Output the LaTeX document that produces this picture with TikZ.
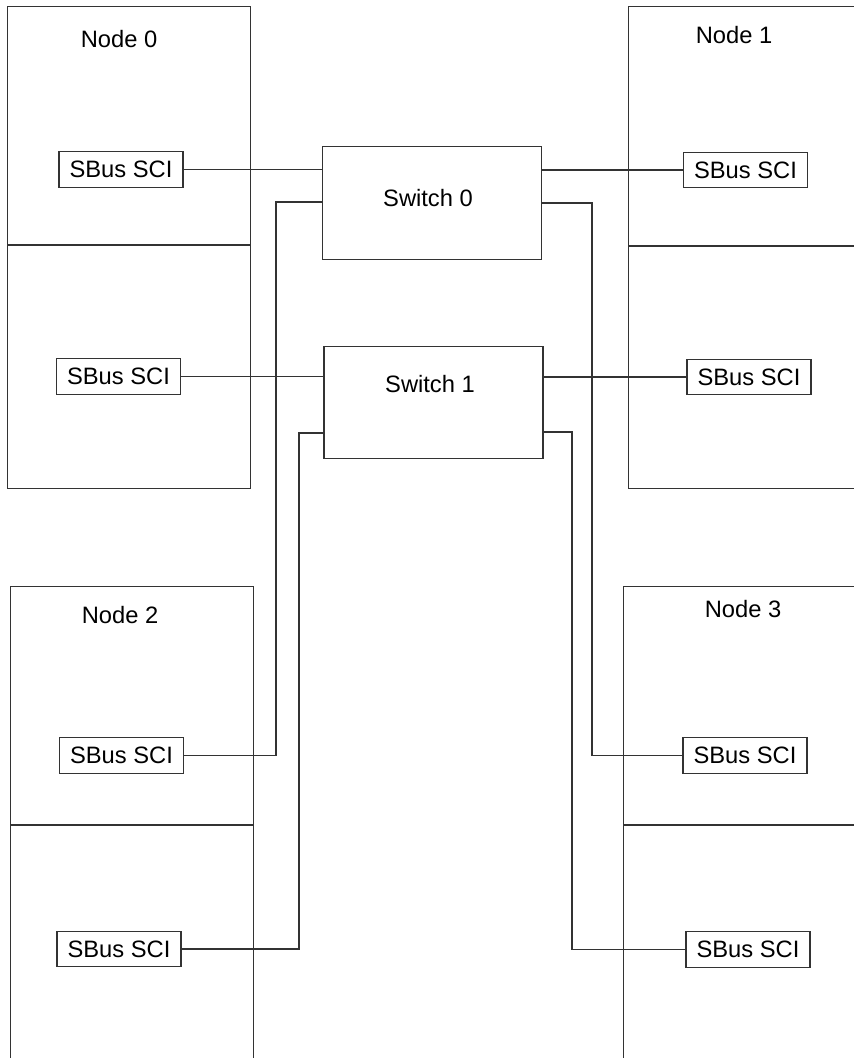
\documentclass[tikz,border=0pt]{standalone}
\usepackage{fontspec}
\setmainfont{Liberation Sans}
\usetikzlibrary{calc}

\begin{document}
\begin{tikzpicture}[x=0.02cm,y=-0.02cm,
  every node/.style={font=\fontsize{13.5}{16}\selectfont},
  line/.style={draw=black!80,line width=0.6pt},
  hostbox/.style={line,anchor=north west,minimum width=4.86cm,minimum height=9.64cm,inner sep=0pt},
  scibox/.style={line,minimum width=2.48cm,minimum height=0.71cm,inner sep=0pt},
  switchbox/.style={line,minimum width=4.38cm,minimum height=2.25cm,inner sep=0pt},
  title/.style={anchor=base,inner sep=0pt}]
  \useasboundingbox (0,0) rectangle (854,1059);
  \clip (0,0) rectangle (854,1057);

  % Hosts (upper and lower halves)
  \node[hostbox] (n0) at (7,6) {};
  \node[hostbox] (n1) at (628,6) {};
  \node[hostbox] (n2) at (10,586) {};
  \node[hostbox] (n3) at (623,586) {};
  \draw[line] (n0.west |- 0,245) -- (n0.east |- 0,245);
  \draw[line] (n1.west |- 0,246) -- (n1.east |- 0,246);
  \draw[line] (n2.west |- 0,825) -- (n2.east |- 0,825);
  \draw[line] (n3.west |- 0,825) -- (n3.east |- 0,825);
  \node[title] (l0) at (119,47) {Node 0};
  \node[title] (l1) at (734,43) {Node 1};
  \node[title] (l2) at (120,623) {Node 2};
  \node[title] (l3) at (743,617) {Node 3};

  % SBus SCI adapters
  \node[scibox] (sci0a) at (121,169.5) {SBus SCI};
  \node[scibox] (sci0b) at (118.5,376.5) {SBus SCI};
  \node[scibox] (sci1a) at (745.5,170) {SBus SCI};
  \node[scibox] (sci1b) at (749,377) {SBus SCI};
  \node[scibox] (sci2a) at (121.5,755.5) {SBus SCI};
  \node[scibox] (sci2b) at (119,949) {SBus SCI};
  \node[scibox] (sci3a) at (745,755.5) {SBus SCI};
  \node[scibox] (sci3b) at (748,949.5) {SBus SCI};

  % Switches
  \node[switchbox] (sw0) at (432,203) {};
  \node[switchbox] (sw1) at (433.5,402.5) {};
  \node[title] (ls0) at (428,206) {Switch 0};
  \node[title] (ls1) at (430,392) {Switch 1};

  % Cabling
  \coordinate (t2a) at (276,202);
  \coordinate (t2b) at (299,433);
  \coordinate (t3a) at (592,203);
  \coordinate (t3b) at (572,432);
  \draw[line] (sci0a.east) -- (sci0a.east -| sw0.west);
  \draw[line] (sci0b.east) -- (sci0b.east -| sw1.west);
  \draw[line] (sci1a.west) -- (sci1a.west -| sw0.east);
  \draw[line] (sci1b.west) -- (sci1b.west -| sw1.east);
  \draw[line] (sci2a.east) -| (t2a) -- (t2a -| sw0.west);
  \draw[line] (sci2b.east) -| (t2b) -- (t2b -| sw1.west);
  \draw[line] (sci3a.west) -| (t3a) -- (t3a -| sw0.east);
  \draw[line] (sci3b.west) -| (t3b) -- (t3b -| sw1.east);
\end{tikzpicture}
\end{document}
